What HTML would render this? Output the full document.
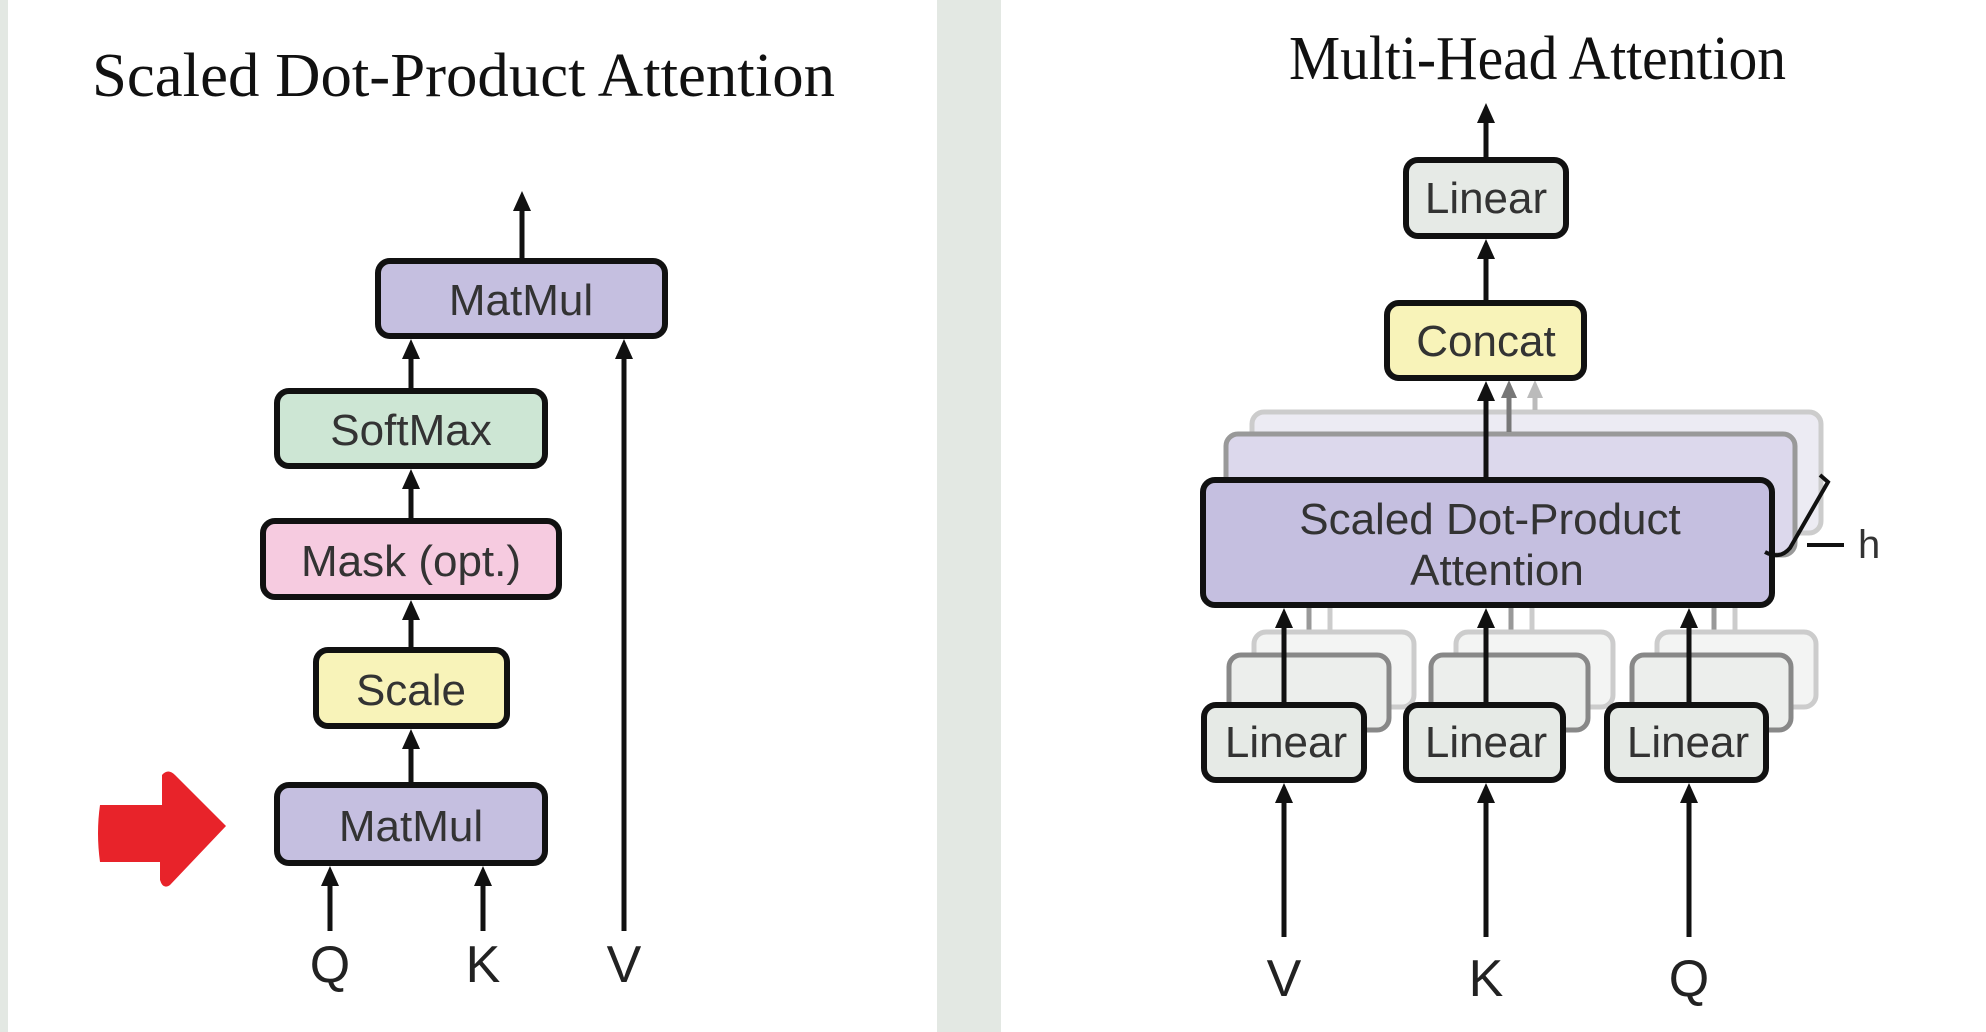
<!DOCTYPE html>
<html><head><meta charset="utf-8"><style>
html,body{margin:0;padding:0;background:#fff}
svg{display:block}
.bx{font-family:"Liberation Sans",sans-serif;font-size:44px;fill:#333;text-anchor:middle}
.lb{font-family:"Liberation Sans",sans-serif;font-size:52px;fill:#222;text-anchor:middle}
.tt{font-family:"Liberation Serif",serif;font-size:62px;fill:#111}
</style></head><body>
<svg width="1986" height="1032" viewBox="0 0 1986 1032" xmlns="http://www.w3.org/2000/svg">
<rect width="1986" height="1032" fill="#fff"/>
<rect x="0" y="0" width="8" height="1032" fill="#e3e8e3"/>
<rect x="937" y="0" width="64" height="1032" fill="#e3e8e3"/>

<!-- Left -->
<text class="tt" x="92" y="96" textLength="743" lengthAdjust="spacingAndGlyphs">Scaled Dot-Product Attention</text>
<g stroke="#111" stroke-width="6">
<rect x="378" y="261" width="287" height="75" rx="12" fill="#c5bfe0"/>
<rect x="277" y="391" width="268" height="75" rx="12" fill="#cde6d4"/>
<rect x="263" y="521" width="296" height="76" rx="12" fill="#f6cbe0"/>
<rect x="316" y="650" width="191" height="76" rx="12" fill="#f8f3b9"/>
<rect x="277" y="785" width="268" height="78" rx="12" fill="#c5bfe0"/>
</g>
<text class="bx" x="521" y="315">MatMul</text>
<text class="bx" x="411" y="445">SoftMax</text>
<text class="bx" x="411" y="576">Mask (opt.)</text>
<text class="bx" x="411" y="705">Scale</text>
<text class="bx" x="411" y="841">MatMul</text>
<g stroke="#111" stroke-width="5">
<line x1="522" y1="258" x2="522" y2="208"/>
<line x1="411" y1="388" x2="411" y2="356"/>
<line x1="411" y1="518" x2="411" y2="486"/>
<line x1="411" y1="647" x2="411" y2="617"/>
<line x1="411" y1="782" x2="411" y2="746"/>
<line x1="330" y1="931" x2="330" y2="883"/>
<line x1="483" y1="931" x2="483" y2="883"/>
<line x1="624" y1="931" x2="624" y2="356"/>
</g>
<g fill="#111">
<path d="M513,211 L522,191 L531,211z"/>
<path d="M402,359 L411,339 L420,359z"/>
<path d="M402,489 L411,469 L420,489z"/>
<path d="M402,620 L411,600 L420,620z"/>
<path d="M402,749 L411,729 L420,749z"/>
<path d="M321,886 L330,866 L339,886z"/>
<path d="M474,886 L483,866 L492,886z"/>
<path d="M615,359 L624,339 L633,359z"/>
</g>
<text class="lb" x="330" y="982">Q</text>
<text class="lb" x="483" y="982">K</text>
<text class="lb" x="624" y="982">V</text>
<path d="M100,805 L162,805 L162,775 Q168,768 175,775 L226,826 L170,885 Q163,890 160,880 L160,862 L100,862 Q96,833 100,805z" fill="#e8232a"/>

<!-- Right -->
<text class="tt" x="1289" y="79" textLength="497" lengthAdjust="spacingAndGlyphs">Multi-Head Attention</text>
<rect x="1252" y="412" width="569" height="121" rx="12" fill="#ecebf3" stroke="#ccc" stroke-width="5"/>
<rect x="1226" y="434" width="569" height="121" rx="12" fill="#dcd8ec" stroke="#999" stroke-width="5"/>
<g stroke-width="5">
<line x1="1535" y1="410" x2="1535" y2="395" stroke="#bbb"/>
<line x1="1509" y1="432" x2="1509" y2="395" stroke="#777"/>
</g>
<path d="M1527,398 L1535,380 L1543,398z" fill="#bbb"/>
<path d="M1501,398 L1509,380 L1517,398z" fill="#777"/>
<g stroke="#111" stroke-width="6">
<rect x="1406" y="160" width="160" height="76" rx="12" fill="#e6eae6"/>
<rect x="1387" y="303" width="197" height="75" rx="12" fill="#f8f3b9"/>
<rect x="1203" y="480" width="569" height="125" rx="12" fill="#c5bfe0"/>
</g>
<text class="bx" x="1486" y="213">Linear</text>
<text class="bx" x="1486" y="356">Concat</text>
<text class="bx" x="1490" y="534">Scaled Dot-Product</text>
<text class="bx" x="1497" y="585">Attention</text>
<g stroke="#111" stroke-width="5">
<line x1="1486" y1="477" x2="1486" y2="398"/>
<line x1="1486" y1="300" x2="1486" y2="256"/>
<line x1="1486" y1="157" x2="1486" y2="120"/>
</g>
<g fill="#111">
<path d="M1477,401 L1486,381 L1495,401z"/>
<path d="M1477,259 L1486,239 L1495,259z"/>
<path d="M1477,123 L1486,103 L1495,123z"/>
</g>
<path d="M1820,475 L1828,482 L1790,548 Q1780,560 1765,552" stroke="#111" stroke-width="4" fill="none"/>
<line x1="1807" y1="545" x2="1844" y2="545" stroke="#111" stroke-width="4"/>
<text x="1858" y="558" font-family="Liberation Sans,sans-serif" font-size="40" fill="#333">h</text>

<g fill="none" stroke-width="5">
<line x1="1330" y1="650" x2="1330" y2="608" stroke="#ccc"/>
<line x1="1309" y1="670" x2="1309" y2="608" stroke="#999"/>
<line x1="1532" y1="650" x2="1532" y2="608" stroke="#ccc"/>
<line x1="1511" y1="670" x2="1511" y2="608" stroke="#999"/>
<line x1="1735" y1="650" x2="1735" y2="608" stroke="#ccc"/>
<line x1="1714" y1="670" x2="1714" y2="608" stroke="#999"/>
</g>
<g stroke-width="5">
<rect x="1254" y="632" width="160" height="75" rx="12" fill="#f3f4f3" stroke="#ccc"/>
<rect x="1229" y="655" width="160" height="75" rx="12" fill="#eceeec" stroke="#888"/>
<rect x="1456" y="632" width="157" height="75" rx="12" fill="#f3f4f3" stroke="#ccc"/>
<rect x="1431" y="655" width="157" height="75" rx="12" fill="#eceeec" stroke="#888"/>
<rect x="1657" y="632" width="159" height="75" rx="12" fill="#f3f4f3" stroke="#ccc"/>
<rect x="1632" y="655" width="159" height="75" rx="12" fill="#eceeec" stroke="#888"/>
</g>
<g stroke="#111" stroke-width="6">
<rect x="1204" y="705" width="160" height="75" rx="12" fill="#e6eae6"/>
<rect x="1406" y="705" width="157" height="75" rx="12" fill="#e6eae6"/>
<rect x="1607" y="705" width="159" height="75" rx="12" fill="#e6eae6"/>
</g>
<text class="bx" x="1286" y="757">Linear</text>
<text class="bx" x="1486" y="757">Linear</text>
<text class="bx" x="1688" y="757">Linear</text>
<g stroke="#111" stroke-width="5">
<line x1="1284" y1="702" x2="1284" y2="625"/>
<line x1="1486" y1="702" x2="1486" y2="625"/>
<line x1="1689" y1="702" x2="1689" y2="625"/>
<line x1="1284" y1="937" x2="1284" y2="800"/>
<line x1="1486" y1="937" x2="1486" y2="800"/>
<line x1="1689" y1="937" x2="1689" y2="800"/>
</g>
<g fill="#111">
<path d="M1275,628 L1284,608 L1293,628z"/>
<path d="M1477,628 L1486,608 L1495,628z"/>
<path d="M1680,628 L1689,608 L1698,628z"/>
<path d="M1275,803 L1284,783 L1293,803z"/>
<path d="M1477,803 L1486,783 L1495,803z"/>
<path d="M1680,803 L1689,783 L1698,803z"/>
</g>
<text class="lb" x="1284" y="996">V</text>
<text class="lb" x="1486" y="996">K</text>
<text class="lb" x="1689" y="996">Q</text>
</svg>
</body></html>
